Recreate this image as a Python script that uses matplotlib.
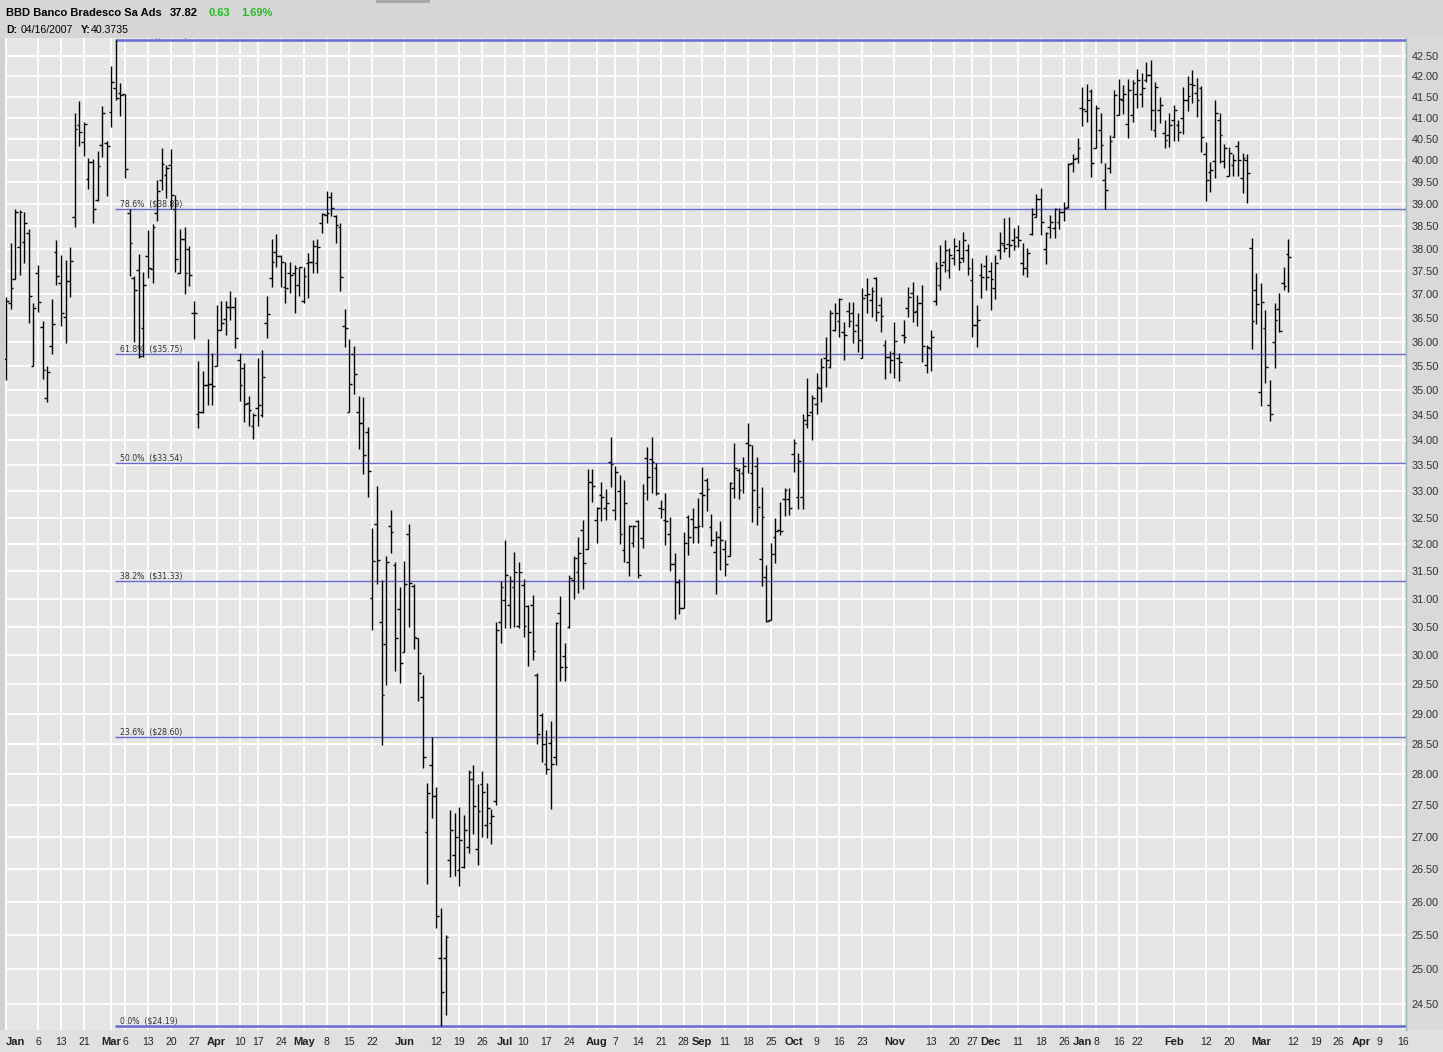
import numpy as np
import pandas as pd
import matplotlib
matplotlib.use("Agg")
import matplotlib.pyplot as plt
from matplotlib.patches import Rectangle
from matplotlib.ticker import NullLocator

# ---------------- header text ----------------
symbol_name = "BBD Banco Bradesco Sa Ads"
last_price = "37.82"
change_abs = "0.63"
change_pct = "1.69%"
cursor_date = "04/16/2007"
cursor_value = "40.3735"

# ---------------- trading calendar ----------------
first_day = "2006-01-26"
last_axis_day = "2007-04-16"
holidays = ["2006-02-20", "2006-04-14", "2006-05-29", "2006-07-04", "2006-09-04",
            "2006-11-23", "2006-12-25", "2007-01-01", "2007-01-02", "2007-01-15",
            "2007-02-19", "2007-04-06"]

# ---------------- OHLC data (daily) ----------------
highs = [
    36.95, 38.13, 38.88, 38.86, 38.82, 38.43, 36.81, 37.63, 36.43, 35.50,
    36.90, 38.19, 37.86, 37.75, 38.04, 41.12, 41.40, 40.89, 40.05, 40.03,
    40.22, 41.28, 40.45, 42.26, 42.89, 41.85, 41.57, 38.88, 37.39, 37.88,
    37.49, 38.41, 38.55, 39.55, 40.28, 39.89, 40.27, 39.20, 38.44, 38.47,
    38.06, 36.85, 35.60, 35.39, 36.05, 35.76, 36.78, 36.85, 36.87, 37.08,
    36.95, 35.76, 35.56, 34.88, 34.53, 35.66, 35.83, 36.97, 38.21, 38.32,
    37.86, 37.71, 37.71, 37.64, 37.60, 37.60, 37.91, 38.18, 38.21, 38.79,
    39.30, 39.27, 38.75, 38.56, 36.69, 36.06, 35.91, 34.88, 34.86, 34.26,
    32.31, 33.10, 31.35, 31.79, 32.65, 31.68, 31.22, 31.69, 32.38, 31.27,
    30.31, 29.66, 27.86, 28.61, 27.79, 25.91, 25.50, 27.42, 27.38, 27.47,
    27.35, 28.07, 28.15, 27.84, 28.05, 27.86, 27.44, 30.59, 31.33, 32.08,
    31.42, 31.86, 31.68, 31.36, 30.89, 31.07, 29.70, 29.01, 28.73, 28.88,
    30.59, 31.05, 30.22, 31.44, 31.79, 32.14, 32.46, 33.43, 33.43, 32.70,
    33.18, 33.05, 34.06, 33.49, 33.32, 33.22, 32.36, 32.36, 32.46, 33.14,
    33.86, 34.06, 33.55, 32.84, 32.97, 32.51, 31.84, 31.36, 32.23, 32.55,
    32.68, 32.87, 33.47, 33.26, 32.57, 32.25, 32.44, 32.08, 33.18, 33.94,
    33.45, 33.66, 34.34, 33.90, 33.66, 33.08, 31.62, 32.03, 32.50, 32.80,
    33.06, 33.06, 34.02, 33.75, 34.52, 35.25, 34.90, 35.35, 35.66, 36.10,
    36.67, 36.82, 36.93, 36.41, 36.84, 36.84, 36.60, 37.13, 37.36, 37.16,
    37.38, 36.95, 36.04, 35.81, 36.41, 35.76, 36.46, 37.16, 37.27, 36.99,
    37.21, 35.93, 36.25, 37.70, 38.08, 38.19, 38.01, 38.23, 38.19, 38.37,
    38.10, 37.80, 36.78, 37.68, 37.86, 37.70, 37.86, 38.37, 38.69, 38.71,
    38.46, 38.52, 38.12, 38.01, 38.91, 39.23, 39.36, 38.37, 38.75, 38.91,
    38.91, 39.04, 39.94, 40.15, 40.52, 41.74, 41.82, 41.69, 41.31, 41.12,
    39.94, 40.59, 41.67, 41.94, 41.79, 41.94, 41.91, 42.18, 42.08, 42.35,
    42.40, 41.86, 41.50, 40.95,
    41.12, 41.31, 40.95, 41.74, 42.01,
    42.16, 41.96, 41.77, 40.43, 39.96, 41.43, 41.12, 40.38, 40.31, 40.15,
    40.45, 40.17, 40.15, 38.24, 37.47, 37.24, 36.67, 35.21, 36.81, 37.03, 37.60, 38.21,
]
lows = [
    35.21, 36.68, 37.33, 37.42, 37.69, 36.40, 35.50, 36.63, 35.22, 34.75,
    35.74, 37.21, 36.33, 35.98, 36.94, 38.49, 40.34, 40.09, 39.33, 38.58,
    39.07, 40.07, 39.18, 40.79, 41.43, 41.05, 39.59, 37.39, 36.00, 35.66,
    35.67, 37.35, 37.24, 38.62, 39.32, 39.13, 38.88, 37.49, 37.46, 37.01,
    37.18, 36.05, 34.23, 34.53, 34.70, 34.70, 35.50, 36.25, 36.14, 36.46,
    35.86, 34.77, 34.36, 34.27, 34.01, 34.27, 34.46, 36.07, 37.16, 37.60,
    37.17, 36.81, 37.03, 36.60, 36.97, 36.82, 36.92, 37.46, 37.46, 38.35,
    38.58, 38.73, 38.12, 37.08, 35.89, 34.56, 34.92, 33.82, 33.34, 32.89,
    30.45, 31.27, 28.48, 29.49, 31.84, 29.73, 29.52, 30.06, 30.50, 30.11,
    29.22, 28.10, 26.27, 27.30, 25.61, 24.19, 24.34, 26.38, 26.39, 26.23,
    26.52, 26.75, 27.04, 26.56, 27.00, 26.98, 26.89, 27.50, 30.22, 30.48,
    30.48, 30.50, 30.48, 30.33, 29.82, 29.92, 28.50, 28.20, 28.00, 27.44,
    28.15, 29.56, 29.56, 30.48, 31.00, 31.11, 31.18, 31.91, 32.80, 32.03,
    32.44, 32.46, 33.08, 32.46, 32.01, 31.68, 31.42, 31.95, 31.38, 31.93,
    32.84, 32.97, 32.93, 32.50, 31.99, 31.51, 30.64, 30.73, 30.84, 31.80,
    32.03, 32.03, 32.33, 32.63, 31.97, 31.09, 31.53, 31.42, 31.79, 32.87,
    32.86, 32.97, 33.35, 32.42, 32.36, 31.24, 30.59, 30.63, 31.66, 32.17,
    32.53, 32.55, 33.37, 32.67, 32.67, 34.24, 34.00, 34.52, 34.76, 35.07,
    35.45, 36.23, 36.10, 35.62, 36.31, 35.97, 35.79, 35.66, 36.60, 36.52,
    36.43, 36.20, 35.23, 35.35, 35.25, 35.19, 35.97, 36.52, 36.41, 36.33,
    35.58, 35.35, 35.39, 36.78, 37.10, 37.49, 37.36, 37.64, 37.53, 37.70,
    37.42, 36.10, 35.89, 36.93, 37.10, 36.67, 36.90, 37.77, 37.93, 37.82,
    37.97, 38.04, 37.42, 37.38, 38.30, 38.71, 38.30, 37.66, 38.24, 38.24,
    38.44, 38.62, 38.91, 39.73, 39.94, 40.80, 40.90, 39.61, 40.29, 39.94,
    38.88, 39.71, 40.55, 41.07, 41.09, 40.52, 40.90, 41.24, 41.26, 41.86,
    40.71, 40.55, 40.88, 40.29,
    40.31, 40.45, 40.45, 40.62, 41.17,
    41.36, 41.02, 40.20, 39.06, 39.27, 39.59, 39.94, 39.82, 39.64, 39.64,
    39.64, 39.25, 39.02, 35.85, 36.37, 34.68, 35.15, 34.38, 35.46, 36.20, 37.10, 37.06,
]
opens = [
    35.64, 36.81, 37.33, 38.04, 38.15, 38.34, 35.50, 37.46, 36.30, 34.84,
    35.90, 37.93, 37.24, 36.52, 37.30, 38.70, 40.83, 40.44, 39.56, 39.95,
    39.09, 40.36, 40.40, 41.15, 41.71, 41.59, 41.57, 38.80, 37.35, 37.53,
    36.28, 37.84, 37.55, 38.80, 39.55, 39.66, 39.89, 38.88, 37.46, 38.21,
    37.99, 36.61, 34.52, 34.56, 35.11, 35.13, 35.50, 36.25, 36.47, 36.74,
    36.74, 35.62, 35.46, 34.74, 34.27, 34.63, 34.50, 36.40, 37.35, 37.93,
    37.84, 37.17, 37.46, 37.46, 37.20, 36.85, 37.69, 37.71, 37.69, 38.58,
    38.75, 39.16, 38.73, 38.49, 36.33, 34.56, 35.75, 34.56, 34.34, 34.16,
    31.02, 32.38, 30.59, 30.20, 32.34, 31.62, 30.82, 30.06, 32.19, 31.24,
    30.30, 29.29, 27.08, 28.15, 27.65, 25.16, 25.16, 26.64, 26.72, 26.48,
    26.53, 26.84, 27.92, 26.81, 27.84, 27.19, 27.21, 27.57, 30.59, 30.98,
    30.89, 31.22, 30.52, 31.25, 30.87, 30.89, 29.66, 28.98, 28.17, 28.51,
    28.28, 30.75, 29.99, 30.50, 31.35, 31.49, 32.27, 31.91, 33.18, 32.46,
    32.93, 32.69, 33.57, 32.65, 33.01, 31.90, 31.68, 32.03, 32.44, 32.12,
    33.64, 33.62, 33.45, 32.69, 32.46, 32.19, 31.64, 31.31, 30.84, 32.51,
    32.48, 32.33, 32.97, 33.22, 32.33, 31.86, 32.14, 31.91, 31.79, 33.06,
    33.41, 33.35, 33.94, 33.35, 33.49, 31.73, 31.40, 30.63, 32.14, 32.27,
    32.86, 32.86, 33.73, 32.89, 32.89, 34.32, 34.56, 34.72, 35.05, 35.66,
    35.48, 36.25, 36.43, 36.20, 36.65, 36.60, 36.35, 35.66, 36.99, 36.88,
    37.36, 36.78, 35.93, 35.69, 35.76, 35.66, 36.14, 36.71, 37.03, 36.65,
    36.82, 35.52, 35.87, 36.86, 37.21, 37.70, 37.53, 37.80, 37.97, 37.80,
    37.97, 37.31, 36.35, 37.42, 37.62, 37.51, 37.14, 37.97, 38.08, 38.10,
    38.19, 38.26, 37.69, 37.57, 38.32, 38.71, 39.11, 37.99, 38.48, 38.46,
    38.60, 38.82, 38.92, 39.94, 40.05, 41.24, 41.17, 41.64, 40.29, 40.71,
    39.55, 39.82, 40.55, 41.07, 41.43, 40.86, 41.07, 41.57, 41.57, 41.91,
    42.03, 40.71, 41.19, 40.64,
    40.59, 40.95, 40.83, 41.00, 41.43,
    41.82, 41.60, 41.72, 40.15, 39.73, 39.98, 40.95, 39.98, 39.64, 39.89,
    40.34, 39.59, 40.01, 38.01, 37.10, 34.96, 36.29, 34.70, 35.99, 36.69, 37.24, 37.88,
]
closes = [
    36.85, 37.13, 38.82, 38.82, 38.58, 36.97, 36.70, 36.83, 35.41, 35.38,
    36.37, 37.40, 36.60, 37.30, 37.73, 40.73, 40.67, 40.86, 39.97, 38.88,
    39.87, 41.12, 40.34, 41.87, 41.47, 41.55, 39.79, 38.12, 37.10, 35.70,
    37.21, 37.57, 38.47, 39.30, 39.92, 39.83, 39.20, 37.77, 38.21, 37.46,
    37.42, 36.60, 34.55, 35.11, 35.13, 35.09, 36.25, 36.39, 36.74, 36.73,
    36.07, 35.11, 34.72, 34.60, 34.50, 34.70, 35.26, 36.58, 37.71, 37.84,
    37.71, 37.13, 37.42, 37.58, 37.59, 37.40, 37.70, 38.06, 38.04, 38.77,
    38.79, 38.90, 38.52, 37.37, 36.29, 35.13, 35.33, 34.34, 33.71, 33.39,
    31.69, 31.71, 29.32, 31.68, 32.23, 30.31, 29.87, 31.27, 31.29, 30.32,
    29.70, 28.28, 27.70, 27.65, 25.79, 24.67, 25.47, 27.11, 27.00, 26.95,
    27.11, 28.04, 27.49, 27.41, 27.71, 27.46, 27.32, 30.45, 31.22, 31.44,
    31.33, 31.49, 31.49, 30.52, 30.41, 30.08, 28.66, 28.50, 28.09, 28.17,
    30.57, 29.79, 29.79, 31.38, 31.75, 31.84, 31.66, 33.18, 33.10, 32.68,
    32.89, 32.78, 33.53, 33.37, 32.19, 32.78, 32.34, 32.34, 31.44, 32.97,
    33.28, 33.57, 32.97, 32.67, 32.44, 31.64, 31.31, 30.84, 32.03, 32.14,
    32.33, 32.34, 32.93, 33.05, 32.08, 32.14, 32.08, 31.64, 33.16, 33.45,
    33.03, 33.49, 33.90, 33.03, 32.70, 32.51, 30.61, 31.82, 32.25, 32.25,
    33.03, 32.69, 33.94, 33.59, 34.40, 34.50, 34.84, 35.07, 35.48, 35.62,
    36.60, 36.60, 36.90, 36.14, 36.43, 36.23, 36.04, 36.93, 37.01, 37.08,
    36.62, 36.54, 35.69, 35.62, 36.01, 35.58, 36.10, 36.95, 36.62, 36.82,
    35.91, 35.89, 36.10, 37.57, 37.64, 37.97, 37.86, 38.06, 37.70, 38.19,
    37.57, 36.35, 36.46, 37.38, 37.38, 37.33, 37.68, 38.12, 38.01, 38.08,
    38.06, 38.19, 37.57, 37.90, 38.77, 39.11, 38.60, 38.35, 38.60, 38.88,
    38.82, 38.91, 39.92, 40.03, 40.29, 41.21, 41.43, 39.94, 41.24, 40.36,
    39.32, 40.45, 41.55, 41.45, 41.57, 41.67, 41.84, 41.91, 41.72, 42.03,
    41.19, 41.74, 41.31, 40.48,
    40.83, 41.19, 40.66, 41.43, 41.52,
    41.80, 41.43, 40.55, 39.55, 39.78, 41.12, 40.59, 40.29, 40.17, 40.01,
    40.01, 40.05, 39.71, 36.43, 36.79, 36.84, 35.48, 34.52, 36.46, 36.23, 37.19, 37.82,
]

# ---------------- Fibonacci retracement ratios ----------------
fib_ratios = [1.0, 0.786, 0.618, 0.5, 0.382, 0.236, 0.0]

# ---------------- axis labels ----------------
tick_dates = ["2006-01-26", "2006-02-06", "2006-02-13", "2006-02-21", "2006-03-01",
              "2006-03-06", "2006-03-13", "2006-03-20", "2006-03-27", "2006-04-03",
              "2006-04-10", "2006-04-17", "2006-04-24", "2006-05-01", "2006-05-08",
              "2006-05-15", "2006-05-22", "2006-06-01", "2006-06-12", "2006-06-19",
              "2006-06-26", "2006-07-03", "2006-07-10", "2006-07-17", "2006-07-24",
              "2006-08-01", "2006-08-07", "2006-08-14", "2006-08-21", "2006-08-28",
              "2006-09-01", "2006-09-11", "2006-09-18", "2006-09-25", "2006-10-02",
              "2006-10-09", "2006-10-16", "2006-10-23", "2006-11-01", "2006-11-13",
              "2006-11-20", "2006-11-27", "2006-12-01", "2006-12-11", "2006-12-18",
              "2006-12-26", "2007-01-03", "2007-01-08", "2007-01-16", "2007-01-22",
              "2007-02-01", "2007-02-12", "2007-02-20", "2007-03-01", "2007-03-12",
              "2007-03-19", "2007-03-26", "2007-04-02", "2007-04-09", "2007-04-16"]
tick_labels = ["Jan", "6", "13", "21", "Mar", "6", "13", "20", "27", "Apr",
               "10", "17", "24", "May", "8", "15", "22", "Jun", "12", "19",
               "26", "Jul", "10", "17", "24", "Aug", "7", "14", "21", "28",
               "Sep", "11", "18", "25", "Oct", "9", "16", "23", "Nov", "13",
               "20", "27", "Dec", "11", "18", "26", "Jan", "8", "16", "22",
               "Feb", "12", "20", "Mar", "12", "19", "26", "Apr", "9", "16"]
month_names = ["Jan", "Feb", "Mar", "Apr", "May", "Jun", "Jul", "Aug", "Sep", "Oct", "Nov", "Dec"]
price_ticks = [24.5 + 0.5 * k for k in range(37)]

# ---------------- figure ----------------
W, H = 1443, 1052
fig = plt.figure(figsize=(W / 100, H / 100), dpi=100, facecolor="#e0e0e0")

ax_l, ax_r, ax_t, ax_b = 5, 1406, 38, 1030
ax = fig.add_axes([ax_l / W, 1 - ax_b / H, (ax_r - ax_l) / W, (ax_b - ax_t) / H])
ax.set_facecolor("#e6e6e6")

days = pd.bdate_range(first_day, last_axis_day)
days = days[~days.isin(pd.to_datetime(holidays))]
n = len(highs)
xs = np.arange(n)

ax.set_yscale("log")
ax.set_ylim(24.131, 42.947)
ax.set_xlim(-0.22, 305.7)

# grid
tick_pos = [days.get_loc(pd.Timestamp(d)) for d in tick_dates]
for p in tick_pos:
    ax.axvline(p, color="white", lw=1.4, zorder=0.5)
for v in price_ticks:
    ax.axhline(v, color="white", lw=1.4, zorder=0.5)

# Fibonacci levels
hi = max(highs)
lo = min(lows)
i_hi = int(np.argmax(highs))
fib_color = "#6a6ad6"
for r in fib_ratios:
    lvl = lo + r * (hi - lo)
    lw = 1.8 if r in (0.0, 1.0) else 1.0
    ax.hlines(lvl, i_hi - 0.3, 305.7, color=fib_color, lw=lw, zorder=1)
    t = ax.annotate(f"{r * 100:.1f}%  (${lvl:.2f})", (i_hi + 0.9, lvl), xytext=(0, 1.8),
                    textcoords="offset points", fontsize=5.6, color="#303030",
                    va="baseline", ha="left", family="DejaVu Sans", zorder=2,
                    annotation_clip=False)
    t.set_clip_on(True)

# OHLC bars
ax.vlines(xs, lows, highs, color="black", lw=1.0, zorder=3)
ax.hlines(opens, xs - 0.6, xs, color="black", lw=1.0, zorder=3)
ax.hlines(closes, xs, xs + 0.6, color="black", lw=1.0, zorder=3)

# axes ticks
ax.set_xticks(tick_pos)
ax.set_xticklabels(tick_labels)
for k, lab in enumerate(ax.get_xticklabels()):
    lab.set_family("Liberation Sans")
    if lab.get_text() in month_names:
        lab.set_fontweight("bold")
        lab.set_fontsize(8)
    else:
        lab.set_fontsize(7.5)
    lab.set_color("#202020")
    if k == 0:
        lab.set_horizontalalignment("left")
ax.tick_params(axis="x", length=0, pad=5)

ax.yaxis.tick_right()
ax.set_yticks(price_ticks)
ax.set_yticklabels([f"{v:.2f}" for v in price_ticks])
ax.yaxis.set_minor_locator(NullLocator())
ax.tick_params(axis="y", which="both", length=0, pad=4, labelsize=7.8, labelcolor="#303030")
for lab in ax.get_yticklabels():
    lab.set_family("Liberation Sans")

for s in ("top", "left", "bottom"):
    ax.spines[s].set_visible(False)
ax.spines["right"].set_color("#9ab4bc")
ax.spines["right"].set_linewidth(1.0)

# header / frame decorations
fig.patches.append(Rectangle((0, 1 - ax_t / H), 1, ax_t / H, transform=fig.transFigure,
                             facecolor="#d6d6d6", edgecolor="none", zorder=1))
fig.patches.append(Rectangle((376 / W, 1 - 3 / H), 54 / W, 3 / H, transform=fig.transFigure,
                             facecolor="#a8a8a8", edgecolor="none", zorder=2))
fig.patches.append(Rectangle((ax_r / W, 1 - ax_b / H), (W - ax_r) / W, (ax_b - ax_t) / H,
                             transform=fig.transFigure, facecolor="#d9d9d9", edgecolor="none", zorder=-1))
fig.patches.append(Rectangle((0, 1 - ax_b / H), ax_l / W, (ax_b - ax_t) / H,
                             transform=fig.transFigure, facecolor="#d0d0d0", edgecolor="none", zorder=-1))

def htext(xp, yp, s, bold=True, color="black", size=8.0):
    fig.text(xp / W, 1 - yp / H, s, ha="left", va="center", fontsize=size,
             fontweight="bold" if bold else "normal", color=color,
             family="Liberation Sans", zorder=5)

htext(6, 13, symbol_name)
htext(170, 13, last_price)
htext(209, 13, change_abs, color="#1fbf1f")
htext(241, 13, change_pct, color="#1fbf1f")
htext(6, 30, "D:", size=7.6)
htext(21, 30, cursor_date, bold=False, size=7.6)
htext(81, 30, "Y:", size=7.6)
htext(91, 30, cursor_value, bold=False, size=7.6)

fig.savefig("out.png", dpi=100, facecolor=fig.get_facecolor())
